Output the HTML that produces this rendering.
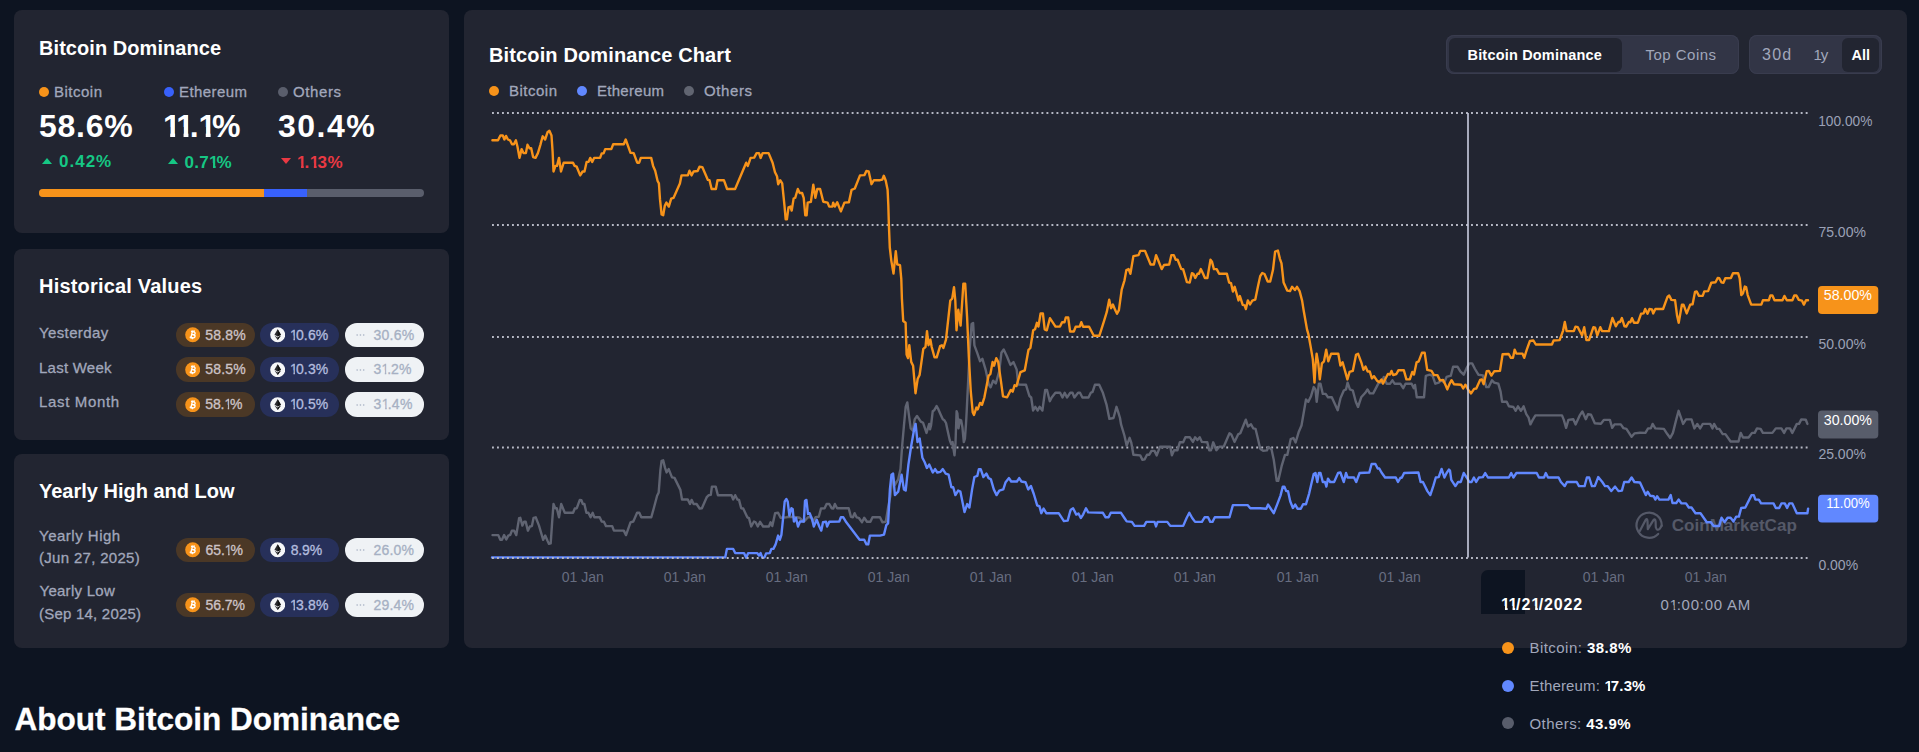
<!DOCTYPE html>
<html lang="en">
<head>
<meta charset="utf-8">
<title>Bitcoin Dominance</title>
<style>
*{box-sizing:border-box;margin:0;padding:0}
html,body{width:1919px;height:752px;overflow:hidden;background:#0d1421;}
body{position:relative;font-family:"Liberation Sans",sans-serif;color:#fff;-webkit-font-smoothing:antialiased}
.panel{position:absolute;background:#222531;border-radius:8px}
.t{position:absolute;white-space:nowrap;line-height:1}
.h{font-weight:700;font-size:20px;color:#fff}
.g{color:#a1a7bb}
.dot{position:absolute;border-radius:50%}
.big{font-weight:700;font-size:32px}
.chg{font-weight:700;font-size:17px}
.pill{position:absolute;height:24.5px;border-radius:12.25px;width:79px}
.pill .v{position:absolute;left:30px;top:5.2px;font-size:14px;line-height:14px;font-weight:400;white-space:nowrap;-webkit-text-stroke:0.3px currentColor}
.pb{background:#4b3826}.pb .v{color:#cdc3c6}
.pe{background:#27305a}.pe .v{color:#b3bcdf}
.po{background:#eff2f5}.po .v{color:#a6b0c3}
.ic{position:absolute;left:9.3px;top:4.55px;width:15.4px;height:15.4px}
.one{display:inline-block;margin-right:-0.14em;clip-path:polygon(0 0,62.5% 0,62.5% 100%,44% 100%,44% 55%,0 55%)}
.oneb{display:inline-block;margin-right:-0.14em;clip-path:polygon(0 0,68% 0,68% 100%,40.5% 100%,40.5% 55%,0 55%)}
.lbl{font-size:15px;color:#a1a7bb;-webkit-text-stroke:0.3px currentColor}
#t1{letter-spacing:0.063px;transform:translate(0.0px,0px)}
#l1{letter-spacing:0.501px;transform:translate(0.0px,0px)}
#l2{letter-spacing:0.429px;transform:translate(0.0px,0px)}
#l3{letter-spacing:0.6px;transform:translate(0.0px,0px)}
#b1{letter-spacing:0.75px;transform:translate(0.0px,0px)}
#b3{letter-spacing:1.5px;transform:translate(0.0px,0px)}
#t2{letter-spacing:0.188px;transform:translate(0.0px,0px)}
#r1{letter-spacing:0.375px;transform:translate(0.0px,0px)}
#r2{letter-spacing:0.235px;transform:translate(0.0px,0px)}
#r3{letter-spacing:0.661px;transform:translate(0.0px,0px)}
#t3{letter-spacing:-0.0px;transform:translate(0.0px,0px)}
#y1{letter-spacing:0.5px;transform:translate(0.0px,0px)}
#y2{letter-spacing:0.308px;transform:translate(0.0px,0px)}
#y3{letter-spacing:0.267px;transform:translate(0.5px,1.4px)}
#y4{letter-spacing:0.207px;transform:translate(0.1px,1.6px)}
#tc{letter-spacing:0.136px;transform:translate(0.0px,0px)}
#cl1{letter-spacing:0.501px;transform:translate(0.0px,0px)}
#cl2{letter-spacing:0.286px;transform:translate(0.0px,0px)}
#cl3{letter-spacing:0.6px;transform:translate(0.0px,0px)}
#tg1{letter-spacing:0.185px;transform:translate(0.0px,0px)}
#tg2{letter-spacing:0.485px;transform:translate(0.0px,0px)}
#tg4{letter-spacing:-1.0px;transform:translate(0.0px,0px)}
#tg5{letter-spacing:0.0px;transform:translate(-0.0px,0px)}
#tr1{letter-spacing:0.453px;transform:translate(0.0px,0px)}
#tr3{letter-spacing:0.426px;transform:translate(0.0px,0px)}
#c1{letter-spacing:1.0px;transform:translate(0.0px,1.25px)}
#b2{letter-spacing:0.0px;transform:translate(-1.0px,0px)}
#c2{letter-spacing:0.3px;transform:translate(0.5px,1.75px)}
#c3{letter-spacing:0.5px;transform:translate(0.0px,1.75px)}
#tp2{letter-spacing:0.76px;transform:translate(0.0px,0px)}
#tr2{letter-spacing:0.153px;transform:translate(0.0px,0px)}
#pv0a{letter-spacing:0.2px;transform:translate(-0.2px,0px)}
#pv1a{letter-spacing:0.2px;transform:translate(-0.2px,0px)}
#pv2a{letter-spacing:-0.125px;transform:translate(-0.2px,0px)}
#pv0b{letter-spacing:0.125px;transform:translate(-0.2px,0px)}
#pv1b{letter-spacing:0.125px;transform:translate(-0.2px,0px)}
#pv2b{letter-spacing:0.125px;transform:translate(-0.2px,0px)}
#pv0c{letter-spacing:0.225px;transform:translate(-1.0px,0px)}
#pv1c{letter-spacing:0.0px;transform:translate(-1.0px,0px)}
#pv2c{letter-spacing:0.25px;transform:translate(-1.0px,0px)}
#pv3a{letter-spacing:-0.075px;transform:translate(0.0px,0px)}
#pv3b{letter-spacing:-0.167px;transform:translate(0.5px,0px)}
#pv3c{letter-spacing:0.175px;transform:translate(-1.0px,0px)}
#pv4a{letter-spacing:-0.05px;transform:translate(0.0px,0px)}
#pv4b{letter-spacing:0.2px;transform:translate(-0.2px,0px)}
#pv4c{letter-spacing:0.175px;transform:translate(-1.0px,0px)}
#tg3{letter-spacing:1.25px;transform:translate(-0.5px,0px)}
#tp1{letter-spacing:0.868px;transform:translate(0.0px,0.8px)}
#about{letter-spacing:0.023px;transform:translate(0.5px,2.0px)}
</style>
</head>
<body>
<!-- PANEL 1 -->
<div class="panel" id="p1" style="left:13.6px;top:10px;width:435.4px;height:223.3px"></div>
<div class="t h" id="t1" style="left:39px;top:38px">Bitcoin Dominance</div>
<div class="dot" style="left:38.5px;top:87.1px;width:10.2px;height:10.2px;background:#f7931a"></div>
<div class="t lbl" id="l1" style="left:54px;top:84.4px">Bitcoin</div>
<div class="dot" style="left:164px;top:87.1px;width:10.2px;height:10.2px;background:#3861fb"></div>
<div class="t lbl" id="l2" style="left:179px;top:84.4px">Ethereum</div>
<div class="dot" style="left:277.8px;top:87.1px;width:10.2px;height:10.2px;background:#5a5e6c"></div>
<div class="t lbl" id="l3" style="left:293px;top:84.4px">Others</div>
<div class="t big" id="b1" style="left:39px;top:109.5px">58.6%</div>
<div class="t big" id="b2" style="left:164px;top:109.5px"><span class="oneb">1</span><span class="oneb">1</span>.<span class="oneb">1</span>%</div>
<div class="t big" id="b3" style="left:278px;top:109.5px">30.4%</div>
<svg style="position:absolute;left:41px;top:157px" width="12" height="8"><path d="M1 7 L6 1 L11 7 Z" fill="#16c784"/></svg>
<div class="t chg" id="c1" style="left:59px;top:152px;color:#16c784">0.42%</div>
<svg style="position:absolute;left:167px;top:157px" width="12" height="8"><path d="M1 7 L6 1 L11 7 Z" fill="#16c784"/></svg>
<div class="t chg" id="c2" style="left:184px;top:152px;color:#16c784">0.7<span class="oneb">1</span>%</div>
<svg style="position:absolute;left:280px;top:157px" width="12" height="8"><path d="M1 1 L6 7 L11 1 Z" fill="#ea3943"/></svg>
<div class="t chg" id="c3" style="left:297px;top:152px;color:#ea3943"><span class="oneb">1</span>.<span class="oneb">1</span>3%</div>
<div style="position:absolute;left:39px;top:189px;width:385px;height:8px;border-radius:4px;background:#5a5e6c;overflow:hidden">
  <div style="position:absolute;left:0;top:0;height:8px;width:225px;background:#f7931a"></div>
  <div style="position:absolute;left:225px;top:0;height:8px;width:43px;background:#3861fb"></div>
</div>

<!-- PANEL 2 -->
<div class="panel" id="p2" style="left:13.6px;top:248.8px;width:435.4px;height:191.1px"></div>
<div class="t h" id="t2" style="left:39px;top:276px">Historical Values</div>
<div class="t lbl" id="r1" style="left:39px;top:324.6px">Yesterday</div>
<div class="t lbl" id="r2" style="left:39px;top:359.5px">Last Week</div>
<div class="t lbl" id="r3" style="left:39px;top:394.4px">Last Month</div>

<!-- PANEL 3 -->
<div class="panel" id="p3" style="left:13.6px;top:454px;width:435.4px;height:193.7px"></div>
<div class="t h" id="t3" style="left:39px;top:481px">Yearly High and Low</div>
<div class="t lbl" id="y1" style="left:39px;top:528px">Yearly High</div>
<div class="t lbl" id="y2" style="left:39px;top:550px">(Jun 27, 2025)</div>
<div class="t lbl" id="y3" style="left:39px;top:582px">Yearly Low</div>
<div class="t lbl" id="y4" style="left:39px;top:604px">(Sep 14, 2025)</div>

<div class="t" id="about" style="left:14px;top:702px;font-size:31.5px;font-weight:700;-webkit-text-stroke:0.3px #fff">About Bitcoin Dominance</div>

<!-- CHART PANEL -->
<div class="panel" id="pc" style="left:463.9px;top:10px;width:1443.1px;height:637.7px"></div>
<div class="t h" id="tc" style="left:489px;top:45px">Bitcoin Dominance Chart</div>


<div class="dot" style="left:489px;top:86px;width:10px;height:10px;background:#f7931a"></div>
<div class="t lbl" id="cl1" style="left:509px;top:82.8px">Bitcoin</div>
<div class="dot" style="left:577px;top:86px;width:10px;height:10px;background:#6188ff"></div>
<div class="t lbl" id="cl2" style="left:597px;top:82.8px">Ethereum</div>
<div class="dot" style="left:684px;top:86px;width:10px;height:10px;background:#616571"></div>
<div class="t lbl" id="cl3" style="left:704px;top:82.8px">Others</div>

<div style="position:absolute;left:1446px;top:35px;width:293px;height:39px;border-radius:8px;background:#323546;box-shadow:inset 0 0 0 1px #393c4e"></div>
<div style="position:absolute;left:1448.5px;top:37.5px;width:173px;height:34px;border-radius:6px;background:#222531"></div>
<div class="t" id="tg1" style="left:1467.5px;top:47.6px;font-size:14.5px;font-weight:700;color:#fff">Bitcoin Dominance</div>
<div class="t" id="tg2" style="left:1645.5px;top:47.2px;font-size:15px;color:#a1a7bb">Top Coins</div>
<div style="position:absolute;left:1749px;top:35px;width:133px;height:39px;border-radius:8px;background:#323546;box-shadow:inset 0 0 0 1px #393c4e"></div>
<div style="position:absolute;left:1841.5px;top:37.5px;width:37.5px;height:34px;border-radius:6px;background:#222531"></div>
<div class="t" id="tg3" style="left:1762.5px;top:46.7px;font-size:16px;color:#a1a7bb">30d</div>
<div class="t" id="tg4" style="left:1813.5px;top:47.2px;font-size:15px;color:#a1a7bb">1y</div>
<div class="t" id="tg5" style="left:1851.5px;top:47.6px;font-size:14.5px;font-weight:700;color:#fff">All</div>
<div class="pill pb" style="left:175.5px;top:322.65px;width:79.2px"><svg class="ic" viewBox="0 0 16 16"><circle cx="8" cy="8" r="7.8" fill="#f7931a"/><g transform="rotate(13 8 8)" fill="none" stroke="#fff" stroke-linejoin="round"><path stroke-width="1.45" d="M5.5 4.9 H8.5 Q10.2 4.9 10.2 6.4 Q10.2 7.9 8.5 7.9 H6.9 M8.5 7.9 H8.9 Q10.8 7.9 10.8 9.5 Q10.8 11.1 8.9 11.1 H5.5 M6.9 4.9 V11.1"/><path stroke-width="0.95" d="M7.3 3.3 V4.9 M8.8 3.3 V4.9 M7.3 11.1 V12.7 M8.8 11.1 V12.7"/></g></svg><span class="v" id="pv0a">58.8%</span></div>
<div class="pill pe" style="left:260.2px;top:322.65px;width:79.2px"><svg class="ic" style="left:9.9px" viewBox="0 0 16 16"><circle cx="8" cy="8" r="7.8" fill="#f5f6f8"/><path d="M8 2.4 L4.6 8.1 L8 10 L11.4 8.1 Z" fill="#2b2b2f"/><path d="M8 2.4 L8 10 L11.4 8.1 Z" fill="#111"/><path d="M4.6 8.8 L8 13.4 L11.4 8.8 L8 10.8 Z" fill="#3a3a3e"/><path d="M8 13.4 L11.4 8.8 L8 10.8 Z" fill="#141414"/></svg><span class="v" id="pv0b"><span class="one">1</span>0.6%</span></div>
<div class="pill po" style="left:344.6px;top:322.65px;width:79.6px"><svg class="ic" style="left:11.6px" viewBox="0 0 16 16"><circle cx="1.2" cy="8.3" r="0.85" fill="#a6b0c3"/><circle cx="4.6" cy="8.3" r="0.85" fill="#a6b0c3"/><circle cx="8" cy="8.3" r="0.85" fill="#a6b0c3"/></svg><span class="v" id="pv0c">30.6%</span></div>
<div class="pill pb" style="left:175.5px;top:357.3px;width:79.2px"><svg class="ic" viewBox="0 0 16 16"><circle cx="8" cy="8" r="7.8" fill="#f7931a"/><g transform="rotate(13 8 8)" fill="none" stroke="#fff" stroke-linejoin="round"><path stroke-width="1.45" d="M5.5 4.9 H8.5 Q10.2 4.9 10.2 6.4 Q10.2 7.9 8.5 7.9 H6.9 M8.5 7.9 H8.9 Q10.8 7.9 10.8 9.5 Q10.8 11.1 8.9 11.1 H5.5 M6.9 4.9 V11.1"/><path stroke-width="0.95" d="M7.3 3.3 V4.9 M8.8 3.3 V4.9 M7.3 11.1 V12.7 M8.8 11.1 V12.7"/></g></svg><span class="v" id="pv1a">58.5%</span></div>
<div class="pill pe" style="left:260.2px;top:357.3px;width:79.2px"><svg class="ic" style="left:9.9px" viewBox="0 0 16 16"><circle cx="8" cy="8" r="7.8" fill="#f5f6f8"/><path d="M8 2.4 L4.6 8.1 L8 10 L11.4 8.1 Z" fill="#2b2b2f"/><path d="M8 2.4 L8 10 L11.4 8.1 Z" fill="#111"/><path d="M4.6 8.8 L8 13.4 L11.4 8.8 L8 10.8 Z" fill="#3a3a3e"/><path d="M8 13.4 L11.4 8.8 L8 10.8 Z" fill="#141414"/></svg><span class="v" id="pv1b"><span class="one">1</span>0.3%</span></div>
<div class="pill po" style="left:344.6px;top:357.3px;width:79.6px"><svg class="ic" style="left:11.6px" viewBox="0 0 16 16"><circle cx="1.2" cy="8.3" r="0.85" fill="#a6b0c3"/><circle cx="4.6" cy="8.3" r="0.85" fill="#a6b0c3"/><circle cx="8" cy="8.3" r="0.85" fill="#a6b0c3"/></svg><span class="v" id="pv1c">3<span class="one">1</span>.2%</span></div>
<div class="pill pb" style="left:175.5px;top:392.0px;width:79.2px"><svg class="ic" viewBox="0 0 16 16"><circle cx="8" cy="8" r="7.8" fill="#f7931a"/><g transform="rotate(13 8 8)" fill="none" stroke="#fff" stroke-linejoin="round"><path stroke-width="1.45" d="M5.5 4.9 H8.5 Q10.2 4.9 10.2 6.4 Q10.2 7.9 8.5 7.9 H6.9 M8.5 7.9 H8.9 Q10.8 7.9 10.8 9.5 Q10.8 11.1 8.9 11.1 H5.5 M6.9 4.9 V11.1"/><path stroke-width="0.95" d="M7.3 3.3 V4.9 M8.8 3.3 V4.9 M7.3 11.1 V12.7 M8.8 11.1 V12.7"/></g></svg><span class="v" id="pv2a">58.<span class="one">1</span>%</span></div>
<div class="pill pe" style="left:260.2px;top:392.0px;width:79.2px"><svg class="ic" style="left:9.9px" viewBox="0 0 16 16"><circle cx="8" cy="8" r="7.8" fill="#f5f6f8"/><path d="M8 2.4 L4.6 8.1 L8 10 L11.4 8.1 Z" fill="#2b2b2f"/><path d="M8 2.4 L8 10 L11.4 8.1 Z" fill="#111"/><path d="M4.6 8.8 L8 13.4 L11.4 8.8 L8 10.8 Z" fill="#3a3a3e"/><path d="M8 13.4 L11.4 8.8 L8 10.8 Z" fill="#141414"/></svg><span class="v" id="pv2b"><span class="one">1</span>0.5%</span></div>
<div class="pill po" style="left:344.6px;top:392.0px;width:79.6px"><svg class="ic" style="left:11.6px" viewBox="0 0 16 16"><circle cx="1.2" cy="8.3" r="0.85" fill="#a6b0c3"/><circle cx="4.6" cy="8.3" r="0.85" fill="#a6b0c3"/><circle cx="8" cy="8.3" r="0.85" fill="#a6b0c3"/></svg><span class="v" id="pv2c">3<span class="one">1</span>.4%</span></div>
<div class="pill pb" style="left:175.5px;top:537.7px;width:79.2px"><svg class="ic" viewBox="0 0 16 16"><circle cx="8" cy="8" r="7.8" fill="#f7931a"/><g transform="rotate(13 8 8)" fill="none" stroke="#fff" stroke-linejoin="round"><path stroke-width="1.45" d="M5.5 4.9 H8.5 Q10.2 4.9 10.2 6.4 Q10.2 7.9 8.5 7.9 H6.9 M8.5 7.9 H8.9 Q10.8 7.9 10.8 9.5 Q10.8 11.1 8.9 11.1 H5.5 M6.9 4.9 V11.1"/><path stroke-width="0.95" d="M7.3 3.3 V4.9 M8.8 3.3 V4.9 M7.3 11.1 V12.7 M8.8 11.1 V12.7"/></g></svg><span class="v" id="pv3a">65.<span class="one">1</span>%</span></div>
<div class="pill pe" style="left:260.2px;top:537.7px;width:79.2px"><svg class="ic" style="left:9.9px" viewBox="0 0 16 16"><circle cx="8" cy="8" r="7.8" fill="#f5f6f8"/><path d="M8 2.4 L4.6 8.1 L8 10 L11.4 8.1 Z" fill="#2b2b2f"/><path d="M8 2.4 L8 10 L11.4 8.1 Z" fill="#111"/><path d="M4.6 8.8 L8 13.4 L11.4 8.8 L8 10.8 Z" fill="#3a3a3e"/><path d="M8 13.4 L11.4 8.8 L8 10.8 Z" fill="#141414"/></svg><span class="v" id="pv3b">8.9%</span></div>
<div class="pill po" style="left:344.6px;top:537.7px;width:79.6px"><svg class="ic" style="left:11.6px" viewBox="0 0 16 16"><circle cx="1.2" cy="8.3" r="0.85" fill="#a6b0c3"/><circle cx="4.6" cy="8.3" r="0.85" fill="#a6b0c3"/><circle cx="8" cy="8.3" r="0.85" fill="#a6b0c3"/></svg><span class="v" id="pv3c">26.0%</span></div>
<div class="pill pb" style="left:175.5px;top:592.6px;width:79.2px"><svg class="ic" viewBox="0 0 16 16"><circle cx="8" cy="8" r="7.8" fill="#f7931a"/><g transform="rotate(13 8 8)" fill="none" stroke="#fff" stroke-linejoin="round"><path stroke-width="1.45" d="M5.5 4.9 H8.5 Q10.2 4.9 10.2 6.4 Q10.2 7.9 8.5 7.9 H6.9 M8.5 7.9 H8.9 Q10.8 7.9 10.8 9.5 Q10.8 11.1 8.9 11.1 H5.5 M6.9 4.9 V11.1"/><path stroke-width="0.95" d="M7.3 3.3 V4.9 M8.8 3.3 V4.9 M7.3 11.1 V12.7 M8.8 11.1 V12.7"/></g></svg><span class="v" id="pv4a">56.7%</span></div>
<div class="pill pe" style="left:260.2px;top:592.6px;width:79.2px"><svg class="ic" style="left:9.9px" viewBox="0 0 16 16"><circle cx="8" cy="8" r="7.8" fill="#f5f6f8"/><path d="M8 2.4 L4.6 8.1 L8 10 L11.4 8.1 Z" fill="#2b2b2f"/><path d="M8 2.4 L8 10 L11.4 8.1 Z" fill="#111"/><path d="M4.6 8.8 L8 13.4 L11.4 8.8 L8 10.8 Z" fill="#3a3a3e"/><path d="M8 13.4 L11.4 8.8 L8 10.8 Z" fill="#141414"/></svg><span class="v" id="pv4b"><span class="one">1</span>3.8%</span></div>
<div class="pill po" style="left:344.6px;top:592.6px;width:79.6px"><svg class="ic" style="left:11.6px" viewBox="0 0 16 16"><circle cx="1.2" cy="8.3" r="0.85" fill="#a6b0c3"/><circle cx="4.6" cy="8.3" r="0.85" fill="#a6b0c3"/><circle cx="8" cy="8.3" r="0.85" fill="#a6b0c3"/></svg><span class="v" id="pv4c">29.4%</span></div>
<svg id="chart" style="position:absolute;left:0;top:0" width="1919" height="752" viewBox="0 0 1919 752" font-family="Liberation Sans, sans-serif">
<g stroke="#b6b8c4" stroke-width="2" stroke-dasharray="1.9 3.095" fill="none"><line x1="492" x2="1807.6" y1="113.05" y2="113.05"/><line x1="492" x2="1807.6" y1="225" y2="225"/><line x1="492" x2="1807.6" y1="336.9" y2="336.9"/><line x1="492" x2="1807.6" y1="447.5" y2="447.5"/></g>
<g fill="#9ba1b6" font-size="14"><text x="1818.2" y="126.2" textLength="54.2" lengthAdjust="spacingAndGlyphs">100.00%</text><text x="1818.4" y="237.2">75.00%</text><text x="1818.4" y="348.6">50.00%</text><text x="1818.4" y="459.4">25.00%</text><text x="1818.4" y="570.1">0.00%</text></g>
<g fill="#676d80" font-size="14"><text x="582.8" y="582.1" text-anchor="middle">01 Jan</text><text x="684.8" y="582.1" text-anchor="middle">01 Jan</text><text x="786.8" y="582.1" text-anchor="middle">01 Jan</text><text x="888.8" y="582.1" text-anchor="middle">01 Jan</text><text x="990.8" y="582.1" text-anchor="middle">01 Jan</text><text x="1092.8" y="582.1" text-anchor="middle">01 Jan</text><text x="1194.8" y="582.1" text-anchor="middle">01 Jan</text><text x="1297.8" y="582.1" text-anchor="middle">01 Jan</text><text x="1399.8" y="582.1" text-anchor="middle">01 Jan</text><text x="1603.8" y="582.1" text-anchor="middle">01 Jan</text><text x="1705.8" y="582.1" text-anchor="middle">01 Jan</text></g>
<g fill="#555968"><g fill="none" stroke="#555968" stroke-width="2.2" stroke-linecap="round" stroke-linejoin="round"><path d="M1658.2 533.9 A12.6 12.6 0 1 1 1661.7 525.6"/><path d="M1639.8 531 L1645.6 519.9 Q1647.3 517.9 1647.5 521 L1647.8 529.2 L1653.3 520.3 Q1655.3 518 1655.6 521.5 L1655.8 527.3 Q1657 531.3 1659.8 528.8 L1661.7 525.6"/></g>
<text id="wm" x="1671.8" y="531.1" font-size="17" font-weight="700" textLength="125" lengthAdjust="spacingAndGlyphs">CoinMarketCap</text></g>
<path d="M492.5 535.1 L498.3 535.1 L500.3 539.8 L502.0 539.8 L504.1 535.1 L506.3 539.4 L508.3 535.6 L510.3 534.8 L511.9 530.6 L514.1 530.6 L516.3 535.1 L519.1 518.1 L520.3 517.8 L522.4 525.6 L524.1 521.8 L525.7 521.8 L527.9 530.6 L529.9 526.5 L531.9 526.1 L533.6 517.8 L535.7 517.3 L539.0 525.6 L543.2 539.8 L545.2 535.6 L547.4 540.6 L549.0 543.9 L550.7 543.4 L552.3 519.8 L553.5 504.0 L555.2 508.2 L556.8 508.2 L559.0 517.3 L561.2 504.0 L564.8 512.8 L573.1 512.8 L574.8 508.5 L576.8 508.2 L579.8 499.9 L581.4 500.2 L582.8 504.0 L584.4 504.0 L586.4 512.8 L588.4 512.8 L590.6 517.3 L592.7 512.8 L594.4 517.3 L599.7 517.3 L601.7 521.5 L603.9 521.8 L606.0 526.1 L612.2 526.1 L613.9 530.6 L623.8 530.6 L626.0 535.1 L630.5 522.3 L633.3 521.5 L637.1 512.8 L639.3 512.8 L641.3 517.3 L651.3 517.3 L653.8 508.2 L657.1 495.7 L658.7 492.4 L660.4 469.9 L661.6 460.8 L663.2 460.3 L664.9 467.4 L666.6 472.4 L668.7 469.1 L672.0 477.4 L674.5 477.9 L680.4 489.9 L682.0 499.5 L687.8 499.5 L690.0 504.0 L691.6 499.9 L693.6 504.0 L696.6 504.0 L699.6 508.5 L701.9 508.2 L706.6 497.4 L708.6 495.2 L710.8 494.9 L711.9 486.6 L715.7 486.6 L717.9 495.2 L731.5 495.2 L733.2 499.5 L735.2 495.2 L737.4 499.5 L739.0 499.9 L741.2 508.2 L743.2 508.5 L747.3 517.3 L749.0 518.1 L751.2 526.5 L754.0 521.5 L755.6 522.3 L757.8 526.5 L760.1 521.8 L763.1 526.5 L768.9 526.5 L770.6 522.3 L772.3 526.1 L775.1 513.2 L778.1 512.8 L780.6 517.8 L786.4 517.3 L788.9 516.8 L796.4 517.3 L799.7 517.8 L803.9 521.8 L808.0 517.3 L811.3 517.3 L813.0 521.5 L815.5 517.3 L818.8 516.8 L821.0 508.5 L824.6 508.2 L826.6 504.0 L829.3 504.0 L831.6 508.2 L833.3 508.5 L834.9 504.0 L837.1 508.2 L848.7 508.2 L850.9 516.8 L852.9 517.3 L854.6 513.2 L856.6 517.3 L858.7 517.8 L862.0 522.3 L864.2 517.8 L867.0 521.8 L870.4 521.8 L872.5 517.3 L880.0 517.3 L882.4 522.2 L885.8 521.8 L888.1 507.5 L890.3 496.2 L892.6 475.9 L894.9 484.9 L898.2 479.3 L900.5 469.1 L902.1 446.5 L903.9 426.2 L905.7 406.9 L907.3 402.4 L908.9 414.9 L910.7 428.4 L912.9 430.7 L914.7 419.4 L917.0 416.0 L920.8 421.6 L923.1 422.8 L926.5 432.9 L929.2 423.9 L930.0 429.4 L931.1 425.1 L932.7 411.3 L934.3 410.2 L936.6 406.0 L938.0 408.6 L940.6 414.5 L942.8 419.3 L944.4 420.3 L946.0 423.0 L947.6 430.4 L949.7 440.0 L951.3 444.3 L952.6 442.1 L953.6 449.6 L954.5 455.4 L955.5 443.2 L956.6 411.3 L957.4 413.4 L958.5 428.3 L959.8 419.8 L961.1 420.3 L962.4 427.2 L963.8 442.1 L964.9 438.9 L966.0 424.0 L966.7 411.3 L969.8 347.2 L971.6 324.0 L973.1 323.0 L974.4 345.4 L977.2 352.8 L980.0 361.2 L982.4 358.8 L985.6 369.6 L988.8 384.5 L990.6 387.3 L993.1 380.7 L995.8 383.5 L999.2 371.4 L1001.4 352.8 L1003.7 349.5 L1007.0 356.5 L1010.4 364.9 L1013.5 362.1 L1016.7 369.6 L1018.2 384.5 L1026.0 384.8 L1029.4 396.0 L1031.2 397.5 L1033.1 410.5 L1035.3 406.8 L1037.7 410.5 L1039.6 406.8 L1042.4 410.5 L1045.2 390.0 L1047.0 390.0 L1049.8 401.2 L1051.7 397.5 L1055.4 392.8 L1060.1 392.8 L1062.5 397.5 L1064.7 392.8 L1067.0 397.5 L1070.3 392.8 L1072.5 392.8 L1074.4 397.5 L1078.1 392.8 L1080.0 392.8 L1082.4 397.5 L1088.5 397.5 L1090.8 392.8 L1092.6 391.9 L1094.9 384.8 L1099.2 384.8 L1102.9 392.8 L1106.6 404.9 L1109.4 418.9 L1113.5 418.0 L1116.5 406.8 L1118.3 412.4 L1120.0 418.0 L1121.0 424.2 L1124.4 435.5 L1126.7 445.7 L1129.6 437.8 L1131.2 442.3 L1133.4 454.7 L1140.2 455.4 L1142.5 459.9 L1144.7 459.3 L1147.0 454.7 L1149.3 454.7 L1151.5 450.9 L1154.5 450.9 L1156.7 455.4 L1159.9 446.8 L1170.3 446.8 L1171.9 455.4 L1174.1 450.2 L1177.5 450.2 L1179.8 442.3 L1183.2 442.3 L1185.4 437.3 L1189.9 437.3 L1192.9 441.9 L1195.1 437.3 L1197.4 440.1 L1199.7 437.3 L1201.9 441.9 L1207.3 442.3 L1209.2 450.2 L1211.0 450.2 L1213.2 442.3 L1216.4 450.2 L1219.3 446.8 L1223.8 446.4 L1229.5 433.3 L1231.3 434.4 L1234.5 441.9 L1238.1 434.4 L1240.3 433.3 L1245.8 419.7 L1248.0 426.5 L1251.0 424.2 L1253.2 428.3 L1255.5 428.8 L1257.7 437.8 L1260.0 448.0 L1260.8 449.3 L1263.1 450.8 L1266.9 450.4 L1268.5 447.0 L1271.5 449.3 L1273.7 459.4 L1276.7 480.9 L1278.2 480.9 L1281.6 466.2 L1285.0 454.9 L1287.3 454.9 L1290.7 439.1 L1293.4 438.0 L1295.6 442.5 L1298.6 432.3 L1301.5 425.5 L1306.0 399.5 L1308.3 401.8 L1311.0 396.2 L1313.7 387.1 L1315.5 389.4 L1316.7 401.8 L1318.9 383.7 L1320.5 383.7 L1322.8 393.9 L1325.7 393.9 L1328.0 397.3 L1331.8 397.3 L1335.9 406.3 L1337.7 410.2 L1340.4 398.4 L1343.8 390.5 L1346.0 389.4 L1347.6 382.6 L1349.9 389.4 L1352.8 390.5 L1355.8 401.8 L1358.0 407.0 L1361.2 397.3 L1365.3 392.8 L1367.5 389.4 L1369.8 393.4 L1373.2 393.4 L1378.8 382.6 L1381.5 382.6 L1383.8 376.9 L1386.7 383.7 L1390.1 383.7 L1392.4 380.3 L1394.6 383.7 L1400.3 383.7 L1403.2 388.2 L1405.5 383.7 L1411.6 383.7 L1413.8 388.2 L1415.0 384.9 L1416.8 397.3 L1424.0 397.3 L1425.8 375.8 L1429.7 374.7 L1432.6 375.8 L1435.3 383.7 L1438.7 382.6 L1441.0 380.3 L1444.4 382.6 L1446.6 376.9 L1450.0 375.8 L1450.8 375.8 L1453.1 366.8 L1457.6 366.8 L1460.3 371.3 L1463.7 374.7 L1466.7 367.9 L1469.4 363.4 L1472.1 363.4 L1475.0 369.0 L1478.4 374.7 L1482.9 375.4 L1486.3 387.1 L1488.6 387.1 L1492.0 380.3 L1494.2 382.6 L1498.3 383.7 L1500.6 391.6 L1502.1 401.8 L1506.7 401.8 L1508.9 406.3 L1513.4 407.0 L1515.7 410.8 L1518.0 406.3 L1520.9 410.8 L1523.6 406.3 L1526.3 414.2 L1528.6 417.6 L1530.4 424.4 L1532.7 419.9 L1535.4 415.4 L1562.0 415.4 L1563.8 419.9 L1566.1 427.8 L1568.4 419.9 L1573.3 419.2 L1575.6 424.4 L1579.7 415.4 L1582.4 411.5 L1585.8 419.2 L1588.0 414.2 L1591.0 414.7 L1594.8 423.3 L1600.9 423.7 L1603.8 419.9 L1609.9 419.9 L1612.2 427.8 L1614.5 424.4 L1620.8 424.4 L1623.5 428.2 L1626.4 428.9 L1631.6 436.8 L1634.4 433.4 L1640.0 432.8 L1645.4 432.9 L1648.1 428.4 L1650.8 428.4 L1652.6 423.9 L1655.3 428.4 L1663.9 428.9 L1667.3 434.1 L1670.2 437.9 L1672.9 432.9 L1676.3 419.4 L1678.6 410.8 L1680.8 417.1 L1683.1 423.9 L1686.0 419.4 L1691.5 419.4 L1694.4 428.4 L1697.3 423.9 L1700.1 428.4 L1702.8 423.9 L1710.2 423.9 L1712.5 428.4 L1714.1 423.9 L1717.0 428.9 L1719.3 428.9 L1722.7 434.1 L1725.4 434.1 L1730.6 441.5 L1738.5 441.5 L1740.7 432.9 L1743.0 437.5 L1748.6 437.5 L1752.0 432.9 L1754.7 432.9 L1757.0 428.4 L1760.6 428.9 L1762.9 432.9 L1772.4 432.9 L1775.8 428.4 L1781.4 428.4 L1784.1 432.9 L1786.4 428.4 L1790.0 428.4 L1792.3 432.9 L1796.8 423.9 L1799.0 423.9 L1801.3 419.4 L1805.8 419.8 L1807.4 423.9" fill="none" stroke="#606472" stroke-width="2.4" stroke-linejoin="round" stroke-linecap="round"/>
<path d="M492.0 557.4 L680.0 557.4 L725.2 557.4 L726.9 548.9 L733.2 548.9 L735.2 553.1 L744.0 553.1 L746.2 557.7 L748.2 553.1 L757.3 553.1 L759.0 555.5 L760.6 553.1 L762.3 557.7 L764.5 557.4 L766.1 553.4 L769.8 553.1 L771.4 548.9 L773.4 548.9 L775.6 544.4 L778.1 535.6 L779.8 539.8 L781.4 534.8 L783.1 518.1 L784.7 501.5 L786.4 499.0 L787.7 501.5 L789.4 515.6 L791.4 508.2 L792.7 509.0 L793.9 521.5 L796.0 518.1 L798.0 526.5 L800.0 521.5 L803.9 521.5 L805.0 500.7 L806.4 499.9 L808.0 514.0 L809.7 513.2 L812.2 519.8 L813.8 526.5 L816.7 519.8 L819.3 526.5 L821.3 530.6 L823.0 522.3 L826.0 521.8 L827.1 526.5 L829.3 521.8 L839.3 521.5 L840.9 517.3 L843.3 517.3 L846.3 522.3 L859.6 539.8 L864.2 539.8 L866.5 544.4 L868.2 544.4 L869.9 535.6 L880.0 535.6 L884.0 534.6 L886.3 525.1 L888.1 523.3 L889.9 489.4 L891.5 474.7 L893.1 473.6 L894.9 495.1 L898.2 491.7 L901.6 474.7 L903.9 489.4 L905.7 490.6 L908.4 464.6 L911.1 446.5 L914.1 429.5 L915.6 423.9 L917.5 442.0 L919.7 438.6 L922.4 457.8 L924.7 462.3 L926.9 468.0 L929.2 464.6 L932.8 472.5 L935.1 469.1 L937.3 472.5 L940.5 471.8 L942.8 469.1 L945.7 473.6 L948.6 474.7 L951.4 487.2 L953.2 487.2 L955.4 495.1 L958.1 490.6 L960.4 491.7 L964.5 512.0 L967.2 504.1 L969.4 507.5 L972.1 489.4 L974.4 477.0 L977.3 475.9 L978.9 469.1 L980.7 469.1 L983.4 477.0 L986.4 473.6 L988.6 478.1 L990.9 479.3 L993.8 489.4 L996.6 495.1 L999.3 490.6 L1003.3 489.4 L1005.6 482.2 L1009.0 478.1 L1011.2 481.5 L1016.9 481.5 L1019.2 478.1 L1021.4 481.5 L1025.5 482.2 L1028.2 489.4 L1030.9 486.0 L1033.8 494.0 L1037.2 505.3 L1039.5 506.4 L1041.3 513.2 L1043.6 508.6 L1046.3 513.2 L1058.7 513.2 L1063.9 521.1 L1067.7 520.6 L1070.0 512.0 L1070.8 509.7 L1073.1 508.3 L1076.3 514.6 L1078.5 513.5 L1080.8 518.0 L1083.1 514.6 L1086.0 508.3 L1088.2 512.4 L1102.9 512.8 L1105.6 517.3 L1108.6 517.3 L1110.8 512.8 L1121.0 512.8 L1124.4 518.0 L1126.7 521.4 L1131.9 521.9 L1134.6 525.9 L1144.1 525.9 L1146.3 521.9 L1154.5 521.9 L1156.0 526.4 L1157.6 521.9 L1167.3 521.9 L1170.3 525.9 L1183.2 525.9 L1186.6 518.0 L1189.3 512.8 L1192.2 518.0 L1195.1 521.9 L1201.9 521.9 L1204.6 517.3 L1208.0 517.3 L1210.3 521.9 L1212.5 521.9 L1214.8 517.3 L1229.5 517.3 L1232.9 505.1 L1247.6 505.1 L1250.3 508.3 L1260.0 508.3 L1266.3 508.7 L1268.1 504.6 L1270.3 508.0 L1273.7 513.2 L1277.1 504.6 L1280.5 495.6 L1282.8 486.6 L1284.4 486.6 L1286.2 491.1 L1288.0 491.1 L1290.2 501.2 L1292.9 508.0 L1295.2 504.6 L1297.5 508.7 L1300.8 508.7 L1303.1 504.2 L1306.0 504.2 L1309.2 493.3 L1311.5 483.2 L1313.7 474.1 L1315.5 473.0 L1317.3 482.0 L1318.9 473.0 L1320.5 473.0 L1322.8 482.0 L1325.0 482.0 L1326.4 486.6 L1328.0 478.6 L1330.2 482.0 L1334.1 482.0 L1338.1 473.0 L1340.4 472.5 L1343.8 482.0 L1346.0 473.0 L1347.6 477.5 L1354.0 477.5 L1356.2 482.0 L1359.6 473.0 L1369.3 472.5 L1371.6 464.0 L1375.4 464.0 L1377.7 468.5 L1379.3 468.5 L1381.5 472.5 L1385.1 477.5 L1395.8 477.5 L1398.0 482.0 L1400.3 478.0 L1401.9 477.5 L1404.1 473.0 L1418.4 472.5 L1420.6 482.0 L1422.9 482.0 L1427.4 491.1 L1430.3 495.1 L1433.5 485.4 L1435.8 477.5 L1438.7 477.1 L1441.6 468.9 L1444.4 477.5 L1446.6 473.0 L1448.9 469.6 L1450.0 470.7 L1451.3 479.8 L1455.4 486.1 L1458.1 482.0 L1460.8 482.0 L1463.7 473.0 L1466.7 477.5 L1469.4 482.0 L1471.6 482.0 L1473.9 477.5 L1476.2 482.0 L1478.9 477.5 L1482.9 477.1 L1485.2 473.0 L1487.9 477.5 L1508.9 477.5 L1511.2 473.0 L1513.4 477.5 L1516.4 473.0 L1536.7 473.0 L1539.0 477.5 L1544.0 477.5 L1545.8 473.0 L1548.0 477.5 L1558.6 477.5 L1560.9 482.0 L1564.7 486.1 L1567.0 482.0 L1576.7 482.0 L1579.0 486.1 L1584.6 486.1 L1586.9 477.5 L1589.2 477.5 L1591.9 486.1 L1594.8 486.1 L1598.2 477.1 L1602.3 482.0 L1605.0 486.1 L1607.7 486.1 L1611.3 491.1 L1615.1 486.6 L1618.5 491.1 L1621.9 490.6 L1624.2 482.0 L1628.7 482.0 L1631.6 477.5 L1634.4 482.0 L1640.0 482.5 L1645.8 495.1 L1647.6 491.7 L1650.3 495.8 L1653.7 496.2 L1655.3 499.6 L1657.1 496.2 L1659.4 499.6 L1668.4 499.6 L1670.7 495.1 L1672.5 503.0 L1676.3 503.0 L1678.6 499.6 L1681.5 503.4 L1686.0 503.4 L1688.8 507.5 L1691.5 507.5 L1695.5 513.2 L1700.5 513.2 L1706.8 522.2 L1710.9 522.2 L1713.6 526.0 L1719.3 526.0 L1721.5 517.7 L1724.5 522.2 L1727.6 517.7 L1730.6 517.7 L1733.5 521.5 L1736.2 516.6 L1738.9 516.6 L1741.2 508.0 L1745.3 507.5 L1751.6 495.1 L1753.8 495.1 L1755.4 499.6 L1758.8 499.6 L1761.1 503.4 L1773.5 503.4 L1775.8 508.0 L1779.2 508.0 L1781.4 503.4 L1784.8 503.4 L1787.1 508.0 L1789.3 503.4 L1792.3 503.4 L1796.8 513.2 L1807.4 513.2 L1808.1 508.6" fill="none" stroke="#6188ff" stroke-width="2.4" stroke-linejoin="round" stroke-linecap="round"/>
<path d="M492.4 140.3 L498.0 140.3 L500.4 135.5 L502.8 135.5 L504.4 139.5 L506.0 135.9 L507.9 139.5 L510.0 140.3 L512.0 144.3 L513.9 144.3 L515.9 140.3 L517.5 146.7 L519.5 157.9 L521.6 149.1 L523.5 153.1 L525.9 153.1 L527.5 144.8 L529.6 148.3 L531.2 148.3 L533.1 157.1 L535.5 157.9 L537.9 153.1 L540.3 145.1 L542.7 136.3 L545.1 139.5 L547.5 132.3 L549.4 130.8 L551.5 135.5 L552.6 151.5 L553.5 171.5 L555.4 165.9 L557.0 165.9 L559.0 157.9 L561.0 171.5 L563.7 162.7 L573.0 162.7 L574.6 165.9 L576.7 166.7 L580.2 175.4 L582.6 171.5 L584.5 171.5 L586.6 161.9 L588.6 161.9 L590.2 157.9 L592.2 161.9 L594.1 157.9 L600.1 157.9 L601.7 153.4 L603.6 153.4 L605.2 149.1 L611.3 149.1 L613.2 144.3 L623.8 144.3 L625.7 139.5 L630.5 152.8 L633.7 153.1 L637.2 162.7 L639.2 162.7 L640.8 157.9 L651.2 157.9 L653.1 165.9 L655.2 170.7 L657.6 181.0 L658.9 183.4 L660.0 199.4 L661.6 214.5 L663.2 215.3 L664.8 205.8 L666.4 202.6 L668.8 206.6 L671.2 198.6 L673.6 197.8 L679.9 183.4 L681.5 175.4 L687.9 175.4 L689.5 170.7 L689.9 171.5 L691.5 175.4 L693.6 171.5 L697.6 171.0 L699.5 166.7 L702.3 167.1 L707.9 179.9 L709.5 180.2 L711.6 189.0 L715.9 189.0 L717.5 180.2 L723.9 180.2 L727.1 189.0 L735.1 189.0 L746.2 162.7 L747.8 165.9 L749.0 162.7 L750.6 157.9 L754.2 157.6 L756.6 153.1 L759.0 153.1 L760.6 157.9 L762.7 153.1 L768.6 153.1 L772.6 162.7 L775.0 172.3 L777.0 176.2 L778.2 184.2 L780.2 180.2 L782.2 183.4 L784.5 205.8 L785.7 219.3 L786.9 219.3 L788.5 207.4 L790.5 206.6 L791.7 210.6 L793.6 198.6 L795.2 197.8 L797.8 189.0 L799.7 193.0 L802.1 193.0 L803.7 197.8 L805.3 215.3 L806.6 215.3 L807.7 202.6 L810.9 201.8 L813.3 184.7 L815.4 197.8 L817.3 189.0 L820.1 189.0 L823.3 201.8 L827.6 202.6 L829.2 206.6 L832.4 206.6 L833.2 202.6 L834.8 206.6 L837.2 202.3 L840.9 211.4 L844.4 202.6 L848.9 202.3 L851.6 189.8 L854.8 188.5 L860.0 175.4 L864.4 175.1 L866.4 171.0 L868.7 171.5 L871.5 184.2 L873.9 180.2 L880.0 180.2 L882.3 179.6 L883.8 175.8 L885.7 180.5 L887.6 189.8 L888.3 204.7 L888.9 225.2 L889.8 247.5 L891.3 260.6 L893.5 273.6 L895.8 251.2 L897.2 264.3 L900.0 265.2 L901.3 279.2 L901.9 298.6 L903.2 321.0 L905.6 322.8 L906.6 354.5 L908.0 358.2 L909.3 345.2 L911.2 361.9 L913.1 365.7 L915.5 393.2 L917.7 378.7 L919.6 375.0 L923.3 348.9 L925.5 347.0 L927.0 331.2 L928.5 345.2 L930.4 339.6 L931.7 347.0 L934.5 357.3 L936.7 357.3 L940.1 346.1 L941.9 345.2 L943.4 348.0 L946.0 339.6 L950.3 300.5 L952.2 298.6 L954.0 287.1 L955.3 300.5 L956.5 330.3 L958.3 309.8 L960.6 325.6 L963.4 283.7 L965.2 283.7 L967.1 317.2 L968.9 358.2 L970.8 391.7 L972.7 412.2 L974.0 415.0 L976.4 407.6 L977.7 409.4 L980.1 402.9 L982.0 404.8 L984.4 397.3 L988.5 375.9 L990.4 374.0 L992.6 361.9 L994.1 365.7 L996.3 358.2 L998.2 361.9 L1000.6 378.7 L1003.0 396.4 L1007.1 397.3 L1010.8 389.9 L1012.7 391.7 L1014.6 385.2 L1016.4 386.1 L1020.5 372.2 L1024.8 370.3 L1028.5 349.8 L1030.4 348.0 L1033.2 330.3 L1035.0 329.3 L1036.9 322.8 L1038.4 326.6 L1040.6 313.5 L1042.9 313.5 L1044.7 329.3 L1046.8 330.3 L1049.9 318.2 L1053.7 323.8 L1055.5 326.6 L1060.0 326.6 L1062.1 322.2 L1064.5 322.2 L1065.8 317.5 L1068.2 317.5 L1070.1 331.5 L1073.8 331.5 L1075.7 326.8 L1079.8 326.5 L1081.3 322.2 L1083.1 326.8 L1089.1 326.8 L1093.8 335.8 L1099.3 335.8 L1104.0 321.2 L1106.8 311.9 L1109.2 299.8 L1111.1 308.2 L1112.9 304.5 L1115.2 310.1 L1117.0 313.8 L1118.9 310.1 L1121.7 289.6 L1124.5 280.3 L1126.4 270.0 L1128.6 269.1 L1130.4 273.8 L1133.4 256.1 L1138.5 255.1 L1140.3 250.9 L1145.0 250.9 L1150.6 264.5 L1153.9 264.5 L1156.1 255.1 L1158.0 259.8 L1161.7 269.1 L1164.0 265.0 L1169.2 264.5 L1171.4 255.1 L1173.8 255.1 L1175.7 259.8 L1177.6 259.8 L1181.3 269.1 L1183.1 269.1 L1186.9 282.1 L1189.7 282.5 L1191.9 273.2 L1193.4 273.8 L1195.3 278.0 L1197.5 273.8 L1199.0 273.8 L1200.8 269.1 L1203.1 273.8 L1204.9 278.0 L1207.4 278.0 L1210.5 259.8 L1212.0 261.7 L1213.9 269.1 L1216.7 269.1 L1219.1 273.8 L1226.9 273.8 L1229.1 282.5 L1231.0 283.1 L1232.9 291.5 L1234.7 286.8 L1238.5 300.4 L1239.9 296.1 L1242.7 304.9 L1244.6 305.4 L1245.9 309.1 L1247.8 300.4 L1250.0 304.5 L1252.3 300.6 L1255.3 299.6 L1258.1 285.7 L1260.2 276.2 L1262.3 273.0 L1264.5 274.0 L1267.7 281.5 L1270.2 281.5 L1273.0 269.8 L1275.1 251.7 L1277.9 250.6 L1280.0 259.1 L1281.5 263.4 L1283.6 282.6 L1287.2 290.6 L1290.0 291.1 L1292.1 286.8 L1294.9 290.0 L1297.0 286.8 L1299.6 291.1 L1302.1 300.6 L1303.8 311.3 L1307.0 329.4 L1308.5 334.7 L1310.6 346.4 L1312.8 359.1 L1314.5 382.6 L1315.5 365.5 L1316.6 353.8 L1318.3 363.4 L1319.8 379.4 L1321.9 363.4 L1324.0 361.3 L1326.2 349.6 L1328.3 361.3 L1331.1 353.8 L1338.3 353.8 L1340.4 365.5 L1342.6 362.3 L1345.3 371.9 L1347.4 379.4 L1349.6 371.9 L1352.8 370.9 L1356.0 354.9 L1358.1 353.8 L1361.3 362.3 L1363.4 369.8 L1365.5 366.6 L1367.7 371.5 L1369.8 371.5 L1371.9 378.3 L1374.0 376.2 L1377.2 380.9 L1379.4 382.1 L1381.5 379.4 L1383.0 383.6 L1385.7 378.3 L1387.9 374.0 L1390.0 374.5 L1391.5 370.9 L1393.2 375.1 L1396.4 374.0 L1398.5 370.2 L1403.8 370.2 L1406.4 379.4 L1409.8 379.4 L1412.3 371.9 L1414.0 374.5 L1416.6 362.3 L1418.7 361.3 L1421.9 352.8 L1424.7 352.8 L1427.2 369.8 L1431.5 370.9 L1434.0 375.1 L1437.4 375.1 L1440.0 380.4 L1443.0 379.9 L1445.2 384.2 L1447.3 389.4 L1449.4 384.2 L1451.6 380.2 L1453.9 384.2 L1461.1 384.7 L1463.2 388.5 L1465.4 384.7 L1468.0 389.4 L1471.1 393.4 L1474.1 388.9 L1476.3 388.5 L1480.1 379.9 L1481.9 379.5 L1483.6 384.2 L1486.7 371.2 L1488.8 370.9 L1491.4 375.6 L1494.3 371.2 L1500.0 370.9 L1502.6 354.3 L1508.7 354.0 L1510.9 357.8 L1513.0 357.8 L1514.7 349.6 L1516.4 353.6 L1522.5 353.6 L1524.2 357.8 L1526.8 349.6 L1529.9 341.0 L1533.4 340.5 L1535.8 344.5 L1551.9 344.5 L1553.6 340.5 L1559.6 340.1 L1563.1 330.6 L1564.8 322.0 L1566.6 331.1 L1573.8 331.1 L1575.5 326.6 L1577.8 327.2 L1580.0 331.5 L1582.1 335.3 L1584.2 327.2 L1586.4 340.1 L1589.0 340.1 L1593.4 327.2 L1595.1 327.7 L1597.3 335.3 L1600.3 327.2 L1602.0 331.1 L1608.9 331.1 L1612.4 318.0 L1615.8 326.3 L1618.4 322.0 L1620.1 322.0 L1621.9 318.0 L1624.5 326.3 L1626.2 326.6 L1628.8 322.0 L1630.0 322.0 L1630.4 322.2 L1632.0 318.2 L1634.0 322.7 L1637.9 322.7 L1641.1 313.7 L1643.6 313.4 L1645.2 309.0 L1647.5 313.7 L1649.5 309.0 L1651.9 309.4 L1653.2 313.4 L1655.4 309.0 L1663.1 309.0 L1667.6 296.7 L1669.2 295.5 L1671.4 299.9 L1675.1 300.3 L1677.1 315.8 L1678.7 322.7 L1681.9 304.6 L1683.5 304.6 L1686.7 313.4 L1690.2 304.6 L1692.6 304.2 L1695.0 291.9 L1696.6 291.4 L1699.0 295.9 L1702.7 295.9 L1704.3 291.4 L1708.1 291.1 L1711.3 282.8 L1715.5 282.3 L1717.7 278.0 L1719.3 278.3 L1721.4 282.3 L1723.4 282.8 L1725.3 278.3 L1730.9 278.0 L1733.0 273.2 L1738.1 273.2 L1739.7 278.3 L1741.3 295.1 L1742.9 293.5 L1744.8 286.6 L1746.1 287.1 L1747.7 295.1 L1751.2 304.6 L1761.3 304.6 L1762.9 300.3 L1768.8 300.3 L1770.4 295.5 L1772.4 295.5 L1774.5 300.3 L1782.5 300.3 L1784.4 295.9 L1786.8 300.3 L1792.4 300.3 L1794.3 295.5 L1796.4 295.5 L1798.8 299.9 L1802.0 300.7 L1803.9 304.6 L1806.0 300.3 L1808.0 300.3" fill="none" stroke="#f7931a" stroke-width="2.4" stroke-linejoin="round" stroke-linecap="round"/>
<line x1="492" x2="1807.6" y1="558" y2="558" stroke="#b6b8c4" stroke-width="2" stroke-dasharray="1.9 3.095"/>
<line x1="1468" x2="1468" y1="113" y2="557.5" stroke="#cacde0" stroke-width="1.6"/>
<rect x="1818" y="286" width="60.3" height="28" rx="4" fill="#f7931a"/><text x="1847.9" y="300.3" font-size="14" fill="#fff" text-anchor="middle" textLength="48.2" lengthAdjust="spacingAndGlyphs">58.00%</text>
<rect x="1818" y="410.6" width="60.3" height="27.8" rx="4" fill="#585d6b"/><text x="1847.9" y="424.7" font-size="14" fill="#fff" text-anchor="middle" textLength="48.2" lengthAdjust="spacingAndGlyphs">30.00%</text>
<rect x="1818" y="494.7" width="60.3" height="27.8" rx="4" fill="#6188ff"/><text x="1848" y="508.2" font-size="14" fill="#fff" text-anchor="middle" textLength="43.5" lengthAdjust="spacingAndGlyphs">11.00%</text>
</svg>
<div style="position:absolute;left:1481.2px;top:569.9px;width:44px;height:43.9px;background:#0d1421;border-radius:7px 0 0 0"></div>
<div class="t" id="tp1" style="left:1501px;top:596.3px;font-size:16px;font-weight:700;color:#fff"><span class="oneb">1</span><span class="oneb">1</span>/2<span class="oneb">1</span>/2022</div>
<div class="t" id="tp2" style="left:1660.5px;top:597px;font-size:15px;color:#a1a7bb">0<span class="one">1</span>:00:00 AM</div>
<div class="dot" style="left:1502px;top:641.5px;width:12px;height:12px;background:#f7931a"></div>
<div class="t" id="tr1" style="left:1529.5px;top:639.5px;font-size:15px;color:#a1a7bb">Bitcoin: <b style="color:#fff">38.8%</b></div>
<div class="dot" style="left:1502px;top:679.5px;width:12px;height:12px;background:#6188ff"></div>
<div class="t" id="tr2" style="left:1529.5px;top:677.5px;font-size:15px;color:#a1a7bb">Ethereum: <b style="color:#fff"><span class="oneb">1</span>7.3%</b></div>
<div class="dot" style="left:1502px;top:717px;width:12px;height:12px;background:#585d6b"></div>
<div class="t" id="tr3" style="left:1529.5px;top:715.5px;font-size:15px;color:#a1a7bb">Others: <b style="color:#fff">43.9%</b></div>

</body>
</html>
